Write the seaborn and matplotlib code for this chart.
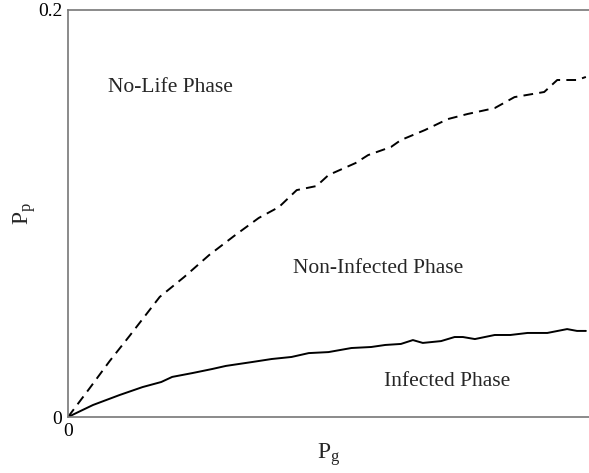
import numpy as np
import pandas as pd
import matplotlib
matplotlib.use('Agg')
import matplotlib.pyplot as plt
import seaborn as sns

# Dados (Pg normalizado 0..1, Pp)
pg_dash = [0.0, 0.042, 0.080, 0.118, 0.176, 0.223, 0.271, 0.319, 0.366, 0.405,
           0.439, 0.477, 0.500, 0.552, 0.576, 0.620, 0.639, 0.685, 0.729, 0.767,
           0.819, 0.857, 0.914, 0.939, 0.977, 0.994]
pp_dash = [0.0, 0.0143, 0.0275, 0.0398, 0.0590, 0.0688, 0.0796, 0.0890, 0.0978, 0.1032,
           0.1115, 0.1135, 0.1189, 0.1248, 0.1287, 0.1327, 0.1361, 0.1410, 0.1464, 0.1489,
           0.1518, 0.1572, 0.1597, 0.1656, 0.1656, 0.1671]

pg_solid = [0.0, 0.048, 0.099, 0.143, 0.179, 0.200, 0.239, 0.277, 0.303, 0.353,
            0.391, 0.429, 0.462, 0.500, 0.544, 0.582, 0.609, 0.639, 0.662, 0.681,
            0.716, 0.742, 0.758, 0.781, 0.819, 0.849, 0.882, 0.920, 0.958, 0.977, 0.994]
pp_solid = [0.0, 0.0059, 0.0108, 0.0147, 0.0172, 0.0197, 0.0216, 0.0236, 0.0251, 0.0270,
            0.0285, 0.0295, 0.0314, 0.0319, 0.0339, 0.0344, 0.0354, 0.0359, 0.0378, 0.0364,
            0.0373, 0.0393, 0.0393, 0.0383, 0.0403, 0.0403, 0.0413, 0.0413, 0.0432, 0.0423, 0.0423]

phase_labels = ['No-Life Phase', 'Non-Infected Phase', 'Infected Phase']
phase_x = [0.196, 0.595, 0.728]
phase_y = [0.1617, 0.0732, 0.0172]

sns.set_style('white')
plt.rcParams['font.family'] = ['Liberation Serif', 'DejaVu Serif']
plt.rcParams['mathtext.fontset'] = 'custom'
plt.rcParams['mathtext.rm'] = 'Liberation Serif'
plt.rcParams['mathtext.it'] = 'Liberation Serif'

fig = plt.figure(figsize=(5.89, 4.73), dpi=100)
ax = fig.add_axes([68/589, 1 - 417/473, 1 - 68/589, (417 - 10)/473])

sns.lineplot(x=pg_dash, y=pp_dash, ax=ax, color='black', linewidth=1.4)
ax.lines[-1].set_dashes([5, 3.2])
sns.lineplot(x=pg_solid, y=pp_solid, ax=ax, color='black', linestyle='-', linewidth=1.4)

for lab, tx, ty in zip(phase_labels, phase_x, phase_y):
    ax.text(tx, ty, lab, ha='center', va='center', fontsize=15.5)

ax.set_xlim(0, 1)
ax.set_ylim(0, 0.2)
ax.set_xticks([0, 0.5, 1])
ax.set_xticklabels(['0', '', ''])
ax.set_yticks([0, 0.1, 0.2])
ax.set_yticklabels(['0', '', '0.2'])
ax.tick_params(direction='in', length=5, width=1, colors='black', labelsize=14, pad=4)

for side in ['left', 'bottom', 'top']:
    ax.spines[side].set_visible(True)
    ax.spines[side].set_color('#777777')
    ax.spines[side].set_linewidth(1.2)
ax.spines['right'].set_visible(False)

ax.set_xlabel(r'P$_{\rm g}$', fontsize=17, labelpad=1)
ax.set_ylabel(r'P$_{\rm p}$', fontsize=17, labelpad=0)

fig.savefig('out.png', dpi=100, facecolor='white')
